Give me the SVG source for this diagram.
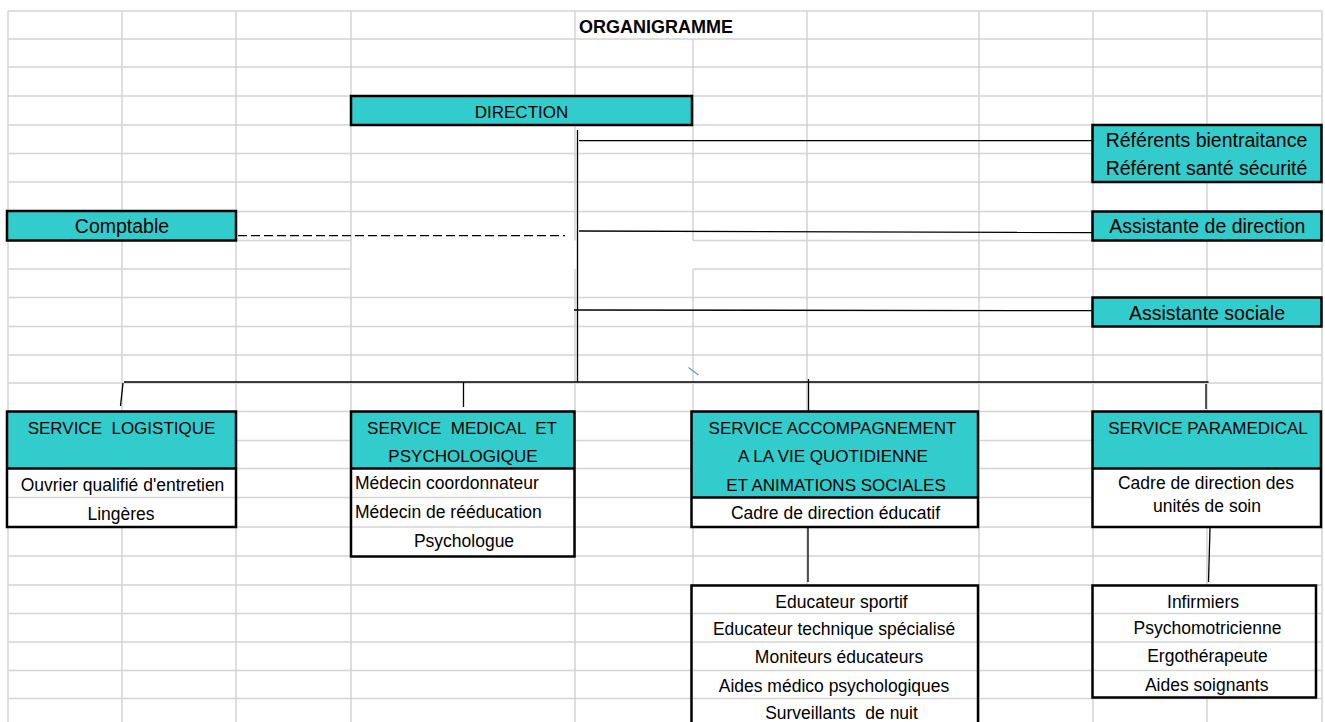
<svg xmlns="http://www.w3.org/2000/svg" width="1325" height="722" viewBox="0 0 1325 722">
<style>
.grid{stroke:#d4d4d4;stroke-width:1.5;fill:none}
.cyan{fill:#33cccc}
.white{fill:#ffffff}
.border{fill:none;stroke:#000;stroke-width:2.5}
.div{stroke:#000;stroke-width:2.5}
.sep{stroke:#d4d4d4;stroke-width:1.5}
.conn{stroke:#000;stroke-width:1.3;fill:none}
text{font-family:"Liberation Sans",Arial,sans-serif;fill:#000}
.title{font-size:18px;font-weight:bold}
.cap{font-size:17px;text-anchor:middle}
.mix{font-size:19.5px;text-anchor:middle}
.lst{font-size:17.5px;text-anchor:middle}
.lsts{font-size:17.5px}
</style>
<rect width="1325" height="722" fill="#ffffff"/>
<g id="grid">
<path class="grid" d="M8,11H1322 M8,39H1322 M8,67H1322 M8,96H1322 M8,125H1322 M8,153.5H1322 M8,182H1322 M8,211.5H1322 M8,240.5H351 M693,240.5H1322 M8,269H351 M693,269H1322 M8,297.5H1322 M8,326.5H1322 M8,355H1322 M8,383H1322 M8,411.5H1322 M8,440.5H1322 M8,468.5H1322 M8,497.5H1322 M8,527H1322 M8,556H1322 M8,585H1322 M8,613.5H1322 M8,642H1322 M8,670.5H1322 M8,698.5H1322 M8,11V722 M122,11V722 M236,11V722 M351,11V722 M575,11V240.5 M575,269V722 M693,39V240.5 M693,269V722 M807,11V722 M979,11V722 M1093,11V722 M1207,11V722 M1322,11V722"/>
</g>
<g id="title">
<text class="title" x="579" y="33">ORGANIGRAMME</text>
</g>
<g id="connectors">
<path class="conn" d="M577.5,130V382" stroke-width="2.2"/>
<path class="conn" d="M579,140.7H1092.5"/>
<path class="conn" d="M579,231L1092.5,232.5"/>
<path class="conn" d="M574,310L1092.5,310.7"/>
<path class="conn" d="M238,235.7H565" stroke-dasharray="9 4"/>
<path class="conn" d="M124,382H1208.5" stroke-width="1.8"/>
<path class="conn" d="M123,383L120.5,406"/>
<path class="conn" d="M463.5,382V407"/>
<path class="conn" d="M808.5,379V411"/>
<path class="conn" d="M1206,384V409"/>
<path class="conn" d="M808,528V582"/>
<path class="conn" d="M1210,528L1208.5,582"/>
<path d="M688.5,367.5L698.5,375" stroke="#5b9bd5" stroke-width="1.3"/>
</g>
<g id="direction">
<rect class="cyan" x="351" y="96" width="341" height="29"/>
<rect class="border" x="351" y="96" width="341" height="29"/>
<text class="cap" x="521.5" y="118">DIRECTION</text>
</g>
<g id="referents">
<rect class="cyan" x="1092.5" y="125" width="229" height="57"/>
<rect class="border" x="1092.5" y="125" width="229" height="57"/>
<text class="mix" x="1206.5" y="147">Référents bientraitance</text>
<text class="mix" x="1206.5" y="174.5">Référent santé sécurité</text>
</g>
<g id="assistante-direction">
<rect class="cyan" x="1092.5" y="211.5" width="229" height="29"/>
<rect class="border" x="1092.5" y="211.5" width="229" height="29"/>
<text class="mix" x="1207.3" y="233">Assistante de direction</text>
</g>
<g id="assistante-sociale">
<rect class="cyan" x="1092.5" y="297.5" width="229" height="29"/>
<rect class="border" x="1092.5" y="297.5" width="229" height="29"/>
<text class="mix" x="1207" y="319.5">Assistante sociale</text>
</g>
<g id="comptable">
<rect class="cyan" x="7" y="211" width="229" height="29.5"/>
<rect class="border" x="7" y="211" width="229" height="29.5"/>
<text class="mix" x="122" y="233">Comptable</text>
</g>
<g id="service-logistique">
<rect class="white" x="7" y="411.5" width="229" height="115.5"/>
<rect class="cyan" x="7" y="411.5" width="229" height="57"/>
<line class="sep" x1="8" y1="497.5" x2="235" y2="497.5"/>
<line class="div" x1="7" y1="468.5" x2="236" y2="468.5"/>
<rect class="border" x="7" y="411.5" width="229" height="115.5"/>
<text class="cap" x="121.5" y="434" xml:space="preserve">SERVICE  LOGISTIQUE</text>
<text class="lst" x="122.5" y="491">Ouvrier qualifié d'entretien</text>
<text class="lst" x="121" y="519.5">Lingères</text>
</g>
<g id="service-medical">
<rect class="white" x="351" y="411.5" width="223.5" height="145"/>
<rect class="cyan" x="351" y="411.5" width="223.5" height="57"/>
<line class="sep" x1="352" y1="497.5" x2="573.5" y2="497.5"/>
<line class="sep" x1="352" y1="527" x2="573.5" y2="527"/>
<line class="div" x1="351" y1="468.5" x2="574.5" y2="468.5"/>
<rect class="border" x="351" y="411.5" width="223.5" height="145"/>
<text class="cap" x="462" y="434" xml:space="preserve">SERVICE  MEDICAL  ET</text>
<text class="cap" x="463" y="461.5">PSYCHOLOGIQUE</text>
<text class="lsts" x="355" y="488.5">Médecin coordonnateur</text>
<text class="lsts" x="355" y="518">Médecin de rééducation</text>
<text class="lst" x="464" y="547">Psychologue</text>
</g>
<g id="service-accompagnement">
<rect class="white" x="691.5" y="411.5" width="286.5" height="115.5"/>
<rect class="cyan" x="691.5" y="411.5" width="286.5" height="86"/>
<line class="div" x1="691.5" y1="497.5" x2="978" y2="497.5"/>
<rect class="border" x="691.5" y="411.5" width="286.5" height="115.5"/>
<text class="cap" x="832.5" y="434">SERVICE ACCOMPAGNEMENT</text>
<text class="cap" x="833" y="461.5">A LA VIE QUOTIDIENNE</text>
<text class="cap" x="836" y="490.5">ET ANIMATIONS SOCIALES</text>
<text class="lst" x="835.5" y="519">Cadre de direction éducatif</text>
</g>
<g id="service-paramedical">
<rect class="white" x="1092.5" y="411.5" width="228.5" height="115.5"/>
<rect class="cyan" x="1092.5" y="411.5" width="228.5" height="57"/>
<line class="div" x1="1092.5" y1="468.5" x2="1321" y2="468.5"/>
<rect class="border" x="1092.5" y="411.5" width="228.5" height="115.5"/>
<text class="cap" x="1208" y="434">SERVICE PARAMEDICAL</text>
<text class="lst" x="1206" y="488.5">Cadre de direction des</text>
<text class="lst" x="1207" y="511.5">unités de soin</text>
</g>
<g id="equipe-educative">
<rect class="white" x="691.5" y="585.5" width="286.5" height="180"/>
<line class="sep" x1="692.5" y1="613.5" x2="977" y2="613.5"/>
<line class="sep" x1="692.5" y1="642" x2="977" y2="642"/>
<line class="sep" x1="692.5" y1="670.5" x2="977" y2="670.5"/>
<line class="sep" x1="692.5" y1="698.5" x2="977" y2="698.5"/>
<rect class="border" x="691.5" y="585.5" width="286.5" height="180"/>
<text class="lst" x="841.5" y="607.5">Educateur sportif</text>
<text class="lst" x="834" y="635">Educateur technique spécialisé</text>
<text class="lst" x="839" y="662.5">Moniteurs éducateurs</text>
<text class="lst" x="834" y="691.5">Aides médico psychologiques</text>
<text class="lst" x="841.5" y="719" xml:space="preserve">Surveillants  de nuit</text>
</g>
<g id="equipe-soin">
<rect class="white" x="1092.5" y="585.5" width="223.5" height="112"/>
<line class="sep" x1="1093.5" y1="613.5" x2="1315" y2="613.5"/>
<line class="sep" x1="1093.5" y1="642" x2="1315" y2="642"/>
<line class="sep" x1="1093.5" y1="670.5" x2="1315" y2="670.5"/>
<rect class="border" x="1092.5" y="585.5" width="223.5" height="112"/>
<text class="lst" x="1203" y="607.5">Infirmiers</text>
<text class="lst" x="1207.5" y="634">Psychomotricienne</text>
<text class="lst" x="1207.5" y="662">Ergothérapeute</text>
<text class="lst" x="1206.7" y="690.5">Aides soignants</text>
</g>
</svg>
